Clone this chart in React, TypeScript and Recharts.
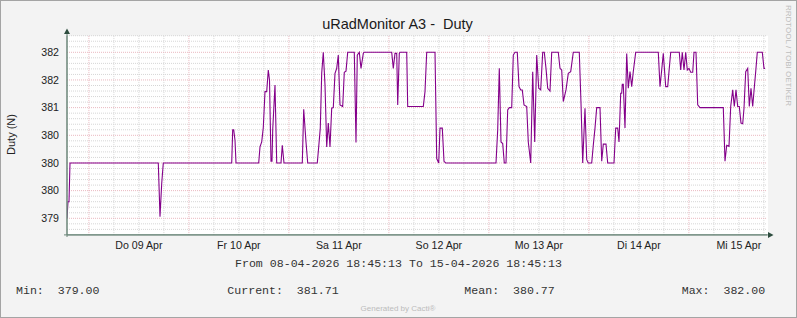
import React from 'react';
import { LineChart, Line, XAxis, YAxis, ReferenceLine } from 'recharts';

// hours since 08-04-2026 18:45:13
const hours = [
  0, 0.24, 0.48, 0.72, 21.91, 22.32, 22.73, 23.11, 39.53, 39.77, 40.01, 40.32, 40.56,
  46.01, 46.32, 46.73, 47.11, 47.52, 47.93, 48.31, 48.6, 48.96, 49.2, 49.37, 49.92, 50.33,
  51.36, 51.67, 52.08, 56.47, 56.81, 57.36, 57.77,
  60.07, 60.41, 60.79, 61.13, 61.51, 61.92, 62.33, 62.71, 63.12, 63.53, 63.91, 64.32, 64.73,
  65.11, 65.52, 66.17, 66.55, 66.96, 67.37,
  68.95, 69.36, 69.67, 70.15, 70.56, 71.11, 71.28,
  77.93, 78.31, 78.72, 79.13, 79.37, 79.75, 79.92,
  81.53, 81.77, 85.51, 85.92, 86.33,
  88.32, 88.73, 89.21, 89.52, 90.07, 90.48, 90.89,
  102.96, 103.37, 103.75, 104.16, 104.57, 104.95, 105.36, 105.77, 106.15, 106.73, 107.11,
  107.52, 108.07, 108.48, 108.89, 109.27, 109.68, 110.33, 110.71, 111.29, 111.77, 112.25,
  112.73, 113.21, 113.69, 114.17, 114.55, 114.96, 115.37, 115.92, 116.33,
  117.91, 118.32, 118.73, 119.11, 119.76, 120.31, 120.89, 121.51,
  122.95, 123.36, 123.77, 124.32, 124.73, 125.11, 125.93, 126.31, 126.72, 127.13, 127.92,
  128.33, 128.71, 129.36, 129.77,
  131.28, 131.69, 132.17, 132.48, 132.89, 133.13, 133.27, 133.51, 133.92, 134.33, 134.71,
  135.12, 135.53, 135.91, 136.49,
  141.91, 142.32, 142.73, 143.11, 143.69, 144.17, 144.48, 144.89,
  146.95, 147.29, 147.67, 148.08, 148.49, 148.87, 149.28, 149.69, 150.17, 150.48, 150.96,
  151.37, 151.92, 157.51,
  157.92, 158.33, 158.88, 159.29, 159.77, 160.15, 160.56, 160.97, 161.35, 161.76, 162.17,
  162.48, 162.89, 163.37, 163.75, 164.16, 164.57, 164.88, 165.29, 165.67, 166.87, 167.28, 167.52,
];

const duty = [
  379.0, 379.3, 379.3, 380.0, 380.0, 379.03, 379.63, 380.0, 380.0, 380.6, 380.6, 380.41, 380.0,
  380.0, 380.29, 380.38, 380.64, 381.29, 381.29, 381.68, 381.5, 380.03, 380.03, 380.6, 381.41, 380.0,
  380.0, 380.32, 380.0, 380.0, 380.97, 380.38, 380.0,
  380.0, 380.29, 380.63, 381.62, 382.0, 381.41, 380.29, 380.72, 380.29, 380.99, 381.0, 381.62, 381.71,
  381.95, 381.05, 381.02, 381.64, 381.66, 382.0,
  382.0, 380.37, 381.95, 382.0, 381.71, 381.98, 382.0,
  382.0, 381.71, 381.98, 381.98, 381.05, 381.98, 382.0,
  382.0, 381.02, 381.02, 381.29, 382.0,
  382.0, 380.08, 380.0, 380.63, 380.63, 380.03, 380.0,
  380.0, 380.6, 381.71, 380.38, 380.35, 380.0, 380.0, 380.96, 381.0, 381.0, 381.95,
  382.0, 382.0, 381.38, 381.32, 381.32, 381.05, 381.02, 380.38, 380.0, 381.65, 380.38,
  381.95, 381.35, 381.32, 382.0, 382.0, 381.71, 381.35, 381.3, 382.0,
  382.0, 381.71, 381.68, 381.11, 381.32, 381.62, 381.65, 382.0,
  382.0, 381.08, 380.0, 380.99, 380.06, 380.0, 380.0, 380.32, 380.63, 381.0, 381.0,
  380.03, 380.34, 380.34, 380.0,
  380.0, 380.63, 380.63, 380.38, 381.26, 381.26, 381.42, 381.42, 380.63, 381.98, 381.35,
  381.65, 381.38, 381.65, 382.0,
  382.0, 381.38, 381.68, 381.98, 381.38, 381.38, 381.65, 382.0,
  382.0, 381.68, 382.0, 381.68, 382.0, 381.68, 381.71, 381.64, 381.64, 382.0, 382.0,
  381.05, 381.0, 381.0,
  380.03, 380.32, 380.3, 381.02, 381.32, 381.02, 381.32, 381.02, 381.02, 380.72, 380.71,
  380.99, 381.65, 381.71, 381.02, 381.35, 381.02, 381.3, 381.65, 382.0, 382.0, 381.71, 381.71,
];

const dayLabels = ['Do 09 Apr', 'Fr 10 Apr', 'Sa 11 Apr', 'So 12 Apr', 'Mo 13 Apr', 'Di 14 Apr', 'Mi 15 Apr'];
const dayLabelHours = [17.25, 41.25, 65.25, 89.25, 113.25, 137.25, 161.25];
const midnightHours = [5.25, 29.25, 53.25, 77.25, 101.25, 125.25, 149.25];
const sixHourHours = [
  11.25, 17.25, 23.25, 35.25, 41.25, 47.25, 59.25, 65.25, 71.25, 83.25, 89.25, 95.25,
  107.25, 113.25, 119.25, 131.25, 137.25, 143.25, 155.25, 161.25, 167.25,
];
const yTicks = [379, 379.5, 380, 380.5, 381, 381.5, 382];
const yTickLabels = ['379', '380', '380', '380', '381', '382', '382'];
const minorY = [
  378.8, 378.9, 379.1, 379.2, 379.3, 379.4, 379.6, 379.7, 379.8, 379.9, 380.1, 380.2, 380.3,
  380.4, 380.6, 380.7, 380.8, 380.9, 381.1, 381.2, 381.3, 381.4, 381.6, 381.7, 381.8, 381.9,
  382.1, 382.2, 382.3,
];

const titleText = 'uRadMonitor A3 -  Duty';
const yLabelText = 'Duty (N)';
const rangeText = 'From 08-04-2026 18:45:13 To 15-04-2026 18:45:13';
const legendItems = ['Min:  379.00', 'Current:  381.71', 'Mean:  380.77', 'Max:  382.00'];
const legendX = [16, 227.3, 464.3, 681.7];

const data = hours.map((h, i) => ({ h, v: duty[i] }));

const W = 797;
const H = 318;
const PL = 67;
const PT = 35.7;
const PR = 767;
const PB = 234.9;

const minorColor = '#d6d6d6';
const majorColor = '#eab8c0';
const axisColor = '#6a8578';
const sans = '"Liberation Sans", Arial, sans-serif';
const mono = '"Liberation Mono", "DejaVu Sans Mono", monospace';

const XTick = (props: any) => {
  const { x, y, payload } = props;
  const idx = dayLabelHours.indexOf(payload.value);
  return (
    <text x={x} y={y + 14} textAnchor="middle" fontFamily={sans} fontSize={10.6} fill="#222">
      {dayLabels[idx]}
    </text>
  );
};

const YTick = (props: any) => {
  const { x, y, payload } = props;
  const idx = yTicks.indexOf(payload.value);
  return (
    <text x={x - 8} y={y + 3.8} textAnchor="end" fontFamily={sans} fontSize={10.6} fill="#222">
      {yTickLabels[idx]}
    </text>
  );
};

export default function App() {
  return (
    <div style={{ position: 'relative', width: W, height: H, overflow: 'hidden' }}>
      <style>{'body{margin:0}'}</style>
      <svg width={W} height={H} style={{ position: 'absolute', left: 0, top: 0 }}>
        <rect x={0} y={0} width={W} height={H} fill="#f3f3f3" />
        <rect x={0.5} y={0.5} width={W - 1} height={H - 1} fill="none" stroke="#a4a4a4" />
        <rect x={PL} y={PT} width={PR - PL + 1} height={PB - PT} fill="#ffffff" />
      </svg>
      <div style={{ position: 'absolute', left: 0, top: 0 }}>
        <LineChart width={W} height={H} data={data} margin={{ top: PT, right: W - PR, bottom: 63.1, left: 0 }}>
          {minorY.map((v) => (
            <ReferenceLine key={'my' + v} y={v} stroke={minorColor} strokeDasharray="1 1" ifOverflow="extendDomain" />
          ))}
          {sixHourHours.map((h) => (
            <ReferenceLine key={'mx' + h} x={h} stroke={minorColor} strokeDasharray="1 1" />
          ))}
          {yTicks.map((v) => (
            <ReferenceLine key={'My' + v} y={v} stroke={majorColor} strokeDasharray="1 1" />
          ))}
          {midnightHours.map((h) => (
            <ReferenceLine key={'Mx' + h} x={h} stroke={majorColor} strokeDasharray="1 1" />
          ))}
          <XAxis
            dataKey="h"
            type="number"
            domain={[0, 168]}
            ticks={dayLabelHours}
            interval={0}
            tick={<XTick />}
            tickLine={false}
            tickSize={0}
            tickMargin={0}
            height={20}
            axisLine={{ stroke: axisColor }}
            allowDataOverflow
          />
          <YAxis
            type="number"
            domain={[378.7, 382.3]}
            ticks={yTicks}
            interval={0}
            tick={<YTick />}
            tickLine={false}
            tickSize={0}
            tickMargin={0}
            width={67}
            axisLine={{ stroke: axisColor }}
            allowDataOverflow
          />
          <Line
            type="linear"
            dataKey="v"
            stroke="#84008a"
            strokeWidth={1.1}
            dot={false}
            activeDot={false}
            isAnimationActive={false}
          />
        </LineChart>
      </div>
      <svg width={W} height={H} style={{ position: 'absolute', left: 0, top: 0, pointerEvents: 'none' }}>
        <line x1={PL} y1={30} x2={PL} y2={237} stroke={axisColor} />
        <line x1={64} y1={PB} x2={770} y2={PB} stroke={axisColor} />
        <polygon points={`${PL - 3},${34} ${PL + 3},${34} ${PL},${28.5}`} fill="#2e4d3f" />
        <polygon points={`${768},${PB - 3} ${768},${PB + 3} ${773.5},${PB}`} fill="#2e4d3f" />
        <text x={397.5} y={28.5} textAnchor="middle" fontFamily={sans} fontSize={14.5} fill="#1a1a1a" style={{ whiteSpace: 'pre' }}>
          {titleText}
        </text>
        <text x={15} y={134.5} textAnchor="middle" fontFamily={sans} fontSize={11} fill="#222" transform="rotate(-90 15 134.5)">
          {yLabelText}
        </text>
        <text x={785.6} y={5} fontFamily={sans} fontSize={8} fill="#bdbdbd" transform="rotate(90 785.6 5)">
          RRDTOOL / TOBI OETIKER
        </text>
        <text x={398.5} y={266.5} textAnchor="middle" fontFamily={mono} fontSize={11.6} fill="#333" style={{ whiteSpace: 'pre' }}>
          {rangeText}
        </text>
        {legendItems.map((t, i) => (
          <text key={t} x={legendX[i]} y={294.3} fontFamily={mono} fontSize={11.6} fill="#333" style={{ whiteSpace: 'pre' }}>
            {t}
          </text>
        ))}
        <text x={398} y={311} textAnchor="middle" fontFamily={sans} fontSize={8} fill="#bcbcbc">
          Generated by Cacti®
        </text>
      </svg>
    </div>
  );
}
